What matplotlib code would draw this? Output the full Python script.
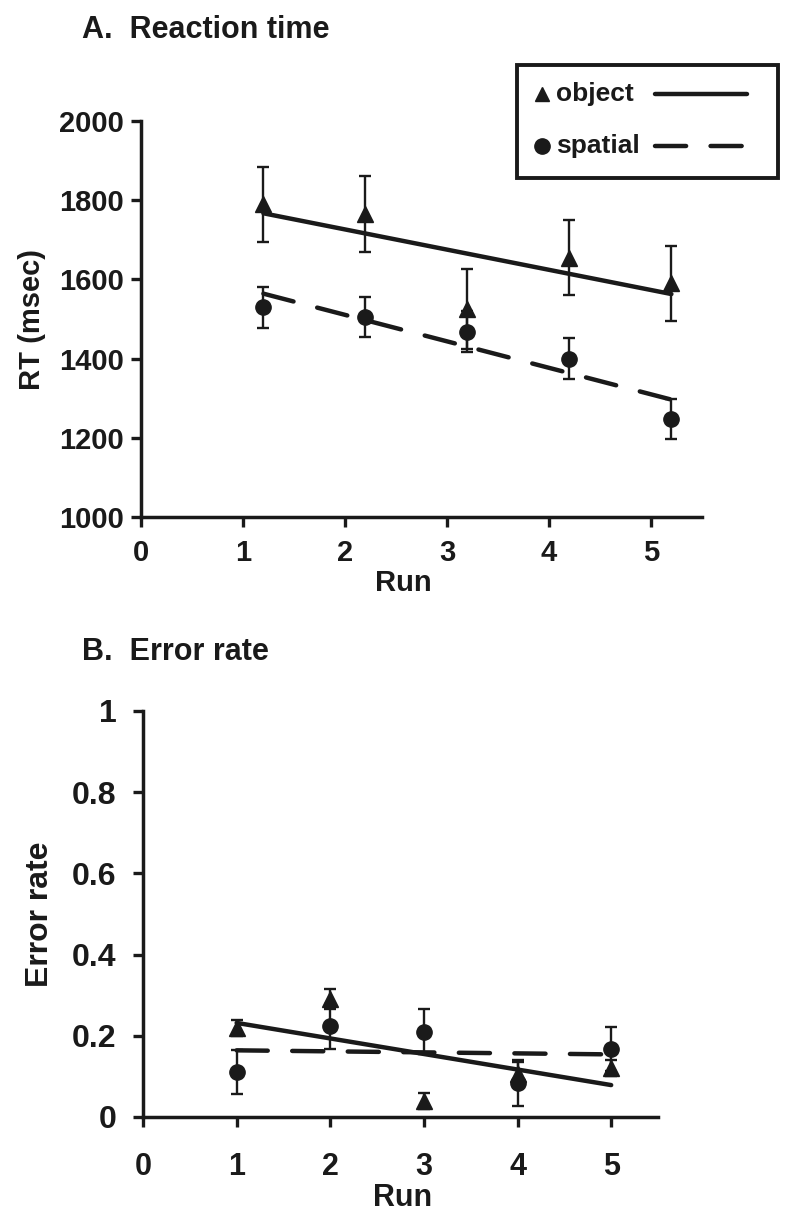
import numpy as np
import matplotlib
matplotlib.use('Agg')
import matplotlib.pyplot as plt
from matplotlib.lines import Line2D
from matplotlib.patches import Rectangle

plt.rcParams['font.family'] = ['Liberation Sans', 'DejaVu Sans']
plt.rcParams['font.weight'] = 'bold'

# A. Reaction time (points drawn slightly right of the run ticks)
runs_a = [1.2, 2.2, 3.2, 4.2, 5.2]
rt_object = [1790, 1765, 1525, 1655, 1590]
rt_object_err = [95, 95, 102, 95, 95]
rt_spatial = [1530, 1505, 1468, 1400, 1248]
rt_spatial_err = [52, 50, 51, 51, 50]

# B. Error rate
runs_b = [1, 2, 3, 4, 5]
er_object = [0.22, 0.29, 0.04, 0.105, 0.121]
er_object_err = [0.02, 0.025, 0.02, 0.03, 0.02]
er_spatial = [0.111, 0.223, 0.21, 0.084, 0.168]
er_spatial_err = [0.055, 0.055, 0.055, 0.056, 0.054]

xticks = [0, 1, 2, 3, 4, 5]
rt_ticks = [1000, 1200, 1400, 1600, 1800, 2000]
er_ticks = [0, 0.2, 0.4, 0.6, 0.8, 1]
er_ticklabels = ['0', '0.2', '0.4', '0.6', '0.8', '1']

W, H = 800, 1211
fig = plt.figure(figsize=(W / 100, H / 100), dpi=100)
INK = '#1a1a1a'

def px_axes(l, t, r, b):
    return fig.add_axes([l / W, 1 - b / H, (r - l) / W, (b - t) / H])

DASH = (7, 5.5)

def style(ax):
    for s in ['top', 'right']:
        ax.spines[s].set_visible(False)
    for s in ['left', 'bottom']:
        ax.spines[s].set_linewidth(2.5)
        ax.spines[s].set_color(INK)
    ax.tick_params(length=7, width=2.4, color=INK, labelcolor=INK)

def draw(ax, x, y_obj, e_obj, y_sp, e_sp):
    ax.errorbar(x, y_obj, yerr=e_obj, fmt='^', color=INK, ms=12,
                elinewidth=1.7, capsize=4, capthick=1.7, zorder=3)
    ax.errorbar(x, y_sp, yerr=e_sp, fmt='o', color=INK, ms=11,
                elinewidth=1.7, capsize=4, capthick=1.7, zorder=3)
    xs = np.array([x[0], x[-1]])
    k, c = np.polyfit(x, y_obj, 1)
    ax.plot(xs, k * xs + c, color=INK, lw=3.2, solid_capstyle='round', zorder=2)
    k, c = np.polyfit(x, y_sp, 1)
    ax.plot(xs, k * xs + c, color=INK, lw=3.2, dashes=DASH,
            dash_capstyle='round', zorder=2)

# ---- panel A
ax1 = px_axes(141, 121, 702, 517)
style(ax1)
draw(ax1, runs_a, rt_object, rt_object_err, rt_spatial, rt_spatial_err)
ax1.set_xlim(0, 5.5)
ax1.set_ylim(1000, 2000)
ax1.set_xticks(xticks)
ax1.set_yticks(rt_ticks)
ax1.tick_params(axis='x', pad=9, labelsize=21)
ax1.tick_params(axis='y', pad=5, labelsize=21)
ax1.set_ylabel('RT (msec)', fontsize=21, fontweight='bold', labelpad=10, color=INK)

# ---- panel B
ax2 = px_axes(143, 711, 658, 1117)
style(ax2)
draw(ax2, runs_b, er_object, er_object_err, er_spatial, er_spatial_err)
ax2.set_xlim(0, 5.5)
ax2.set_ylim(0, 1)
ax2.set_xticks(xticks)
ax2.set_yticks(er_ticks)
ax2.set_yticklabels(er_ticklabels)
ax2.tick_params(axis='x', pad=18, labelsize=22)
ax2.tick_params(axis='y', pad=12, labelsize=23)
ax2.set_ylabel('Error rate', fontsize=23, fontweight='bold', labelpad=12, color=INK)

# x labels sit a little left of the axis centre
fig.text(403 / W, 1 - 583 / H, 'Run', fontsize=21, fontweight='bold', color=INK,
         ha='center', va='center')
fig.text(403 / W, 1 - 1198 / H, 'Run', fontsize=22, fontweight='bold', color=INK,
         ha='center', va='center')

# titles
fig.text(82 / W, 1 - 38 / H, 'A.  Reaction time', fontsize=22, fontweight='bold',
         color=INK, va='baseline')
fig.text(82 / W, 1 - 660 / H, 'B.  Error rate', fontsize=22, fontweight='bold',
         color=INK, va='baseline')

# legend box: marker, label, then line sample
fig.add_artist(Rectangle((517 / W, 1 - 178 / H), 261 / W, 113 / H, transform=fig.transFigure,
                         fill=False, lw=2.8, edgecolor=INK))
for yy, mk, lab, ls in [(94, '^', 'object', None), (146, 'o', 'spatial', DASH)]:
    fy = 1 - yy / H
    fig.add_artist(Line2D([542 / W], [fy], marker=mk, ms=10 if mk == '^' else 11,
                          color=INK, transform=fig.transFigure, ls='none'))
    fig.text(556 / W, fy, lab, fontsize=19, fontweight='bold', va='center', color=INK)
    kw = {'dashes': ls} if ls else {}
    fig.add_artist(Line2D([655 / W, 747 / W], [fy, fy], lw=3.2, color=INK,
                          transform=fig.transFigure, solid_capstyle='round',
                          dash_capstyle='round', **kw))

fig.savefig('out.png', dpi=100)
